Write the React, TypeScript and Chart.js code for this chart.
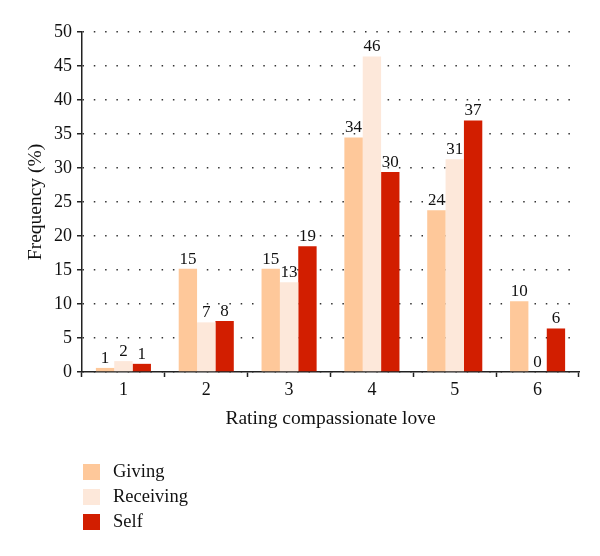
import React, { useEffect, useRef } from "react";
import { Chart, registerables } from "chart.js";

Chart.register(...registerables);

const categories = ["1", "2", "3", "4", "5", "6"];
const seriesNames = ["Giving", "Receiving", "Self"];
const givingValues = [0.6, 15.2, 15.2, 34.5, 23.8, 10.4];
const receivingValues = [1.6, 7.3, 13.2, 46.4, 31.3, 0];
const selfValues = [1.2, 7.5, 18.5, 29.4, 37.0, 6.4];
const givingLabels = ["1", "15", "15", "34", "24", "10"];
const receivingLabels = ["2", "7", "13", "46", "31", "0"];
const selfLabels = ["1", "8", "19", "30", "37", "6"];
const seriesColors = ["#FEC89A", "#FDE8DA", "#D21E00"];

const FONT = "'Liberation Serif', 'Times New Roman', serif";

const valueLabelPlugin = {
  id: "valueLabels",
  afterDatasetsDraw(chart: any) {
    const ctx = chart.ctx;
    ctx.save();
    ctx.font = `17px ${FONT}`;
    ctx.fillStyle = "#111";
    ctx.textAlign = "center";
    ctx.textBaseline = "bottom";
    chart.data.datasets.forEach((ds: any, di: number) => {
      const meta = chart.getDatasetMeta(di);
      meta.data.forEach((el: any, i: number) => {
        ctx.fillText(ds.valueLabels[i], el.x, el.y - 1);
      });
    });
    ctx.restore();
  },
};

const customLegendPlugin = {
  id: "customLegend",
  afterDraw(chart: any) {
    const ctx = chart.ctx;
    const x0 = chart.chartArea.left + 1;
    const y0 = chart.chartArea.bottom + 92;
    ctx.save();
    ctx.font = `18.5px ${FONT}`;
    ctx.textAlign = "left";
    ctx.textBaseline = "middle";
    chart.data.datasets.forEach((ds: any, i: number) => {
      const y = y0 + i * 25;
      ctx.fillStyle = ds.backgroundColor;
      ctx.fillRect(x0, y, 17, 16);
      ctx.fillStyle = "#111";
      ctx.fillText(ds.label, x0 + 30, y + 8);
    });
    ctx.restore();
  },
};

export default function App() {
  const canvasRef = useRef<HTMLCanvasElement | null>(null);

  useEffect(() => {
    if (!canvasRef.current) return;
    const chart = new Chart(canvasRef.current, {
      type: "bar",
      data: {
        labels: categories,
        datasets: [
          { label: seriesNames[0], data: givingValues, backgroundColor: seriesColors[0], valueLabels: givingLabels } as any,
          { label: seriesNames[1], data: receivingValues, backgroundColor: seriesColors[1], valueLabels: receivingLabels } as any,
          { label: seriesNames[2], data: selfValues, backgroundColor: seriesColors[2], valueLabels: selfLabels } as any,
        ],
      },
      options: {
        responsive: false,
        animation: false,
        layout: { padding: { left: 0, right: 21, top: 32, bottom: 114 } },
        datasets: { bar: { categoryPercentage: 0.665, barPercentage: 1 } },
        plugins: {
          legend: { display: false },
          tooltip: { enabled: false },
        },
        scales: {
          x: {
            grid: {
              drawOnChartArea: false,
              drawTicks: true,
              tickLength: 5,
              tickColor: "#222",
              tickWidth: 1.5,
              offset: true,
            },
            border: { color: "#222", width: 1.5 },
            ticks: { color: "#111", font: { family: FONT, size: 18 }, padding: 2 },
            title: {
              display: true,
              text: "Rating compassionate love",
              color: "#111",
              font: { family: FONT, size: 19.5 },
              padding: { top: 4, bottom: 11 },
            },
            afterFit(scale: any) {
              scale.height = 70;
            },
          },
          y: {
            min: 0,
            max: 50,
            ticks: { stepSize: 5, color: "#111", font: { family: FONT, size: 18 }, padding: 5 },
            grid: {
              color: "#333",
              lineWidth: 1.5,
              drawTicks: true,
              tickLength: 5,
              tickColor: "#222",
              tickWidth: 1.5,
            },
            border: { color: "#222", width: 1.5, dash: [1.5, 9.8] },
            title: {
              display: true,
              text: "Frequency (%)",
              color: "#111",
              font: { family: FONT, size: 19.5 },
              padding: { top: 24, bottom: 0 },
            },
            afterFit(scale: any) {
              scale.width = 82;
            },
          },
        },
      },
      plugins: [valueLabelPlugin, customLegendPlugin],
    });
    return () => chart.destroy();
  }, []);

  return (
    <div style={{ position: "absolute", left: 0, top: 0, width: 600, height: 556, background: "#fff" }}>
      <canvas ref={canvasRef} width={600} height={556} style={{ display: "block" }} />
    </div>
  );
}
